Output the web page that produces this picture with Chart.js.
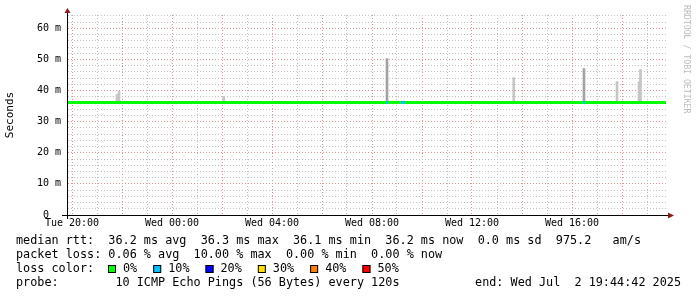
<!DOCTYPE html>
<html>
<head>
<meta charset="utf-8">
<script src="https://cdn.jsdelivr.net/npm/chart.js@4.4.0/dist/chart.umd.min.js"></script>
<style>
  html, body { margin: 0; padding: 0; background: #fff; }
</style>
</head>
<body>
<canvas id="smoke" width="697" height="297"></canvas>
<script>
// x values are hours after Tue 20:00
const gridHours = [0, 1, 2, 3, 4, 5, 6, 7, 8, 9, 10, 11, 12, 13, 14, 15, 16, 17, 18, 19, 20, 21, 22, 23];
const labelHours = [0, 4, 8, 12, 16, 20];
const timeLabels = ['Tue 20:00', 'Wed 00:00', 'Wed 04:00', 'Wed 08:00', 'Wed 12:00', 'Wed 16:00'];

// median rtt (ms) with packet loss (%) per step
const medianTimes  = [-0.2, 1, 2, 3, 4, 5, 6, 7, 8, 9, 10, 11, 12, 12.56, 12.64, 13, 13.16, 13.32, 14, 15, 16, 17, 18, 19, 20, 20.44, 20.52, 21, 22, 23, 23.76];
const medianValues = [36.2, 36.2, 36.2, 36.2, 36.2, 36.2, 36.2, 36.2, 36.2, 36.2, 36.2, 36.2, 36.2, 36.2, 36.2, 36.2, 36.2, 36.2, 36.2, 36.2, 36.2, 36.2, 36.2, 36.2, 36.2, 36.2, 36.2, 36.2, 36.2, 36.2, 36.2];
const medianLoss   = [0, 0, 0, 0, 0, 0, 0, 0, 0, 0, 0, 0, 0, 10, 0, 0, 10, 0, 0, 0, 0, 0, 0, 0, 0, 10, 0, 0, 0, 0, 0];

// smoke (spread of the pings) where it shows above the median
const smokeTimes = [1.80, 1.88, 6.07, 12.60, 17.67, 20.48, 21.80, 22.68, 22.74];
const smokeLow   = [36.0, 36.0, 36.0, 36.0, 36.0, 36.0, 36.0, 36.0, 36.0];
const smokeHigh  = [38.8, 39.8, 38.1, 50.3, 44.2, 47.1, 42.9, 42.9, 46.8];
const smokePings = [1, 1, 1, 2, 1, 2, 1, 1, 1];

// legend numbers
const rttStats  = [36.2, 36.3, 36.1, 36.2, 0.0];
const amPerSec  = 975.2;
const lossStats = [0.06, 10.00, 0.00, 0.00];
const lossSteps = [0, 10, 20, 30, 40, 50];
const lossColors = ['#00ff00', '#00c0ff', '#0000ff', '#ffe000', '#ff8000', '#ff0000'];

const MONO = '"DejaVu Sans Mono", monospace';
const MAJOR = '#de9494';
const MINOR = '#c2c2c2';

function lossColor(p) {
    let c = lossColors[0];
    lossSteps.forEach((s, i) => { if (p >= s) c = lossColors[i]; });
    return c;
}

const rrdDecor = {
    id: 'rrdDecor',
    afterDraw(chart) {
        const { ctx, chartArea: a } = chart;
        ctx.save();

        // axis lines sticking out a little, plus arrows
        ctx.strokeStyle = '#000';
        ctx.lineWidth = 1;
        ctx.beginPath();
        ctx.moveTo(62, a.bottom + 0.5);
        ctx.lineTo(a.right + 2, a.bottom + 0.5);
        ctx.moveTo(a.left + 0.5, a.bottom + 4);
        ctx.lineTo(a.left + 0.5, a.top - 2);
        ctx.stroke();

        ctx.fillStyle = '#901818';
        ctx.beginPath();
        ctx.moveTo(a.left + 0.5 - 3, 13);
        ctx.lineTo(a.left + 0.5 + 3, 13);
        ctx.lineTo(a.left + 0.5, 8);
        ctx.closePath();
        ctx.fill();
        ctx.beginPath();
        ctx.moveTo(a.right + 1, a.bottom + 0.5 - 3);
        ctx.lineTo(a.right + 1, a.bottom + 0.5 + 3);
        ctx.lineTo(a.right + 7, a.bottom + 0.5);
        ctx.closePath();
        ctx.fill();

        // watermark
        ctx.save();
        ctx.translate(686, 5);
        ctx.rotate(Math.PI / 2);
        ctx.font = '8.2px ' + MONO;
        ctx.fillStyle = '#bcbcbc';
        ctx.textAlign = 'left';
        ctx.textBaseline = 'middle';
        ctx.fillText('RRDTOOL / TOBI OETIKER', 0, 0);
        ctx.restore();

        // legend text
        ctx.font = '11.8px ' + MONO;
        ctx.fillStyle = '#000';
        ctx.textBaseline = 'middle';
        ctx.textAlign = 'left';
        const x0 = 16;
        const r = rttStats.map(v => v.toFixed(1));
        ctx.fillText(`median rtt:  ${r[0]} ms avg  ${r[1]} ms max  ${r[2]} ms min  ${r[3]} ms now  ${r[4]} ms sd  ${amPerSec.toFixed(1)}   am/s`, x0, 241);
        const l = lossStats.map(v => v.toFixed(2));
        ctx.fillText(`packet loss: ${l[0]} % avg  ${l[1]} % max  ${l[2]} % min  ${l[3]} % now`, x0, 255);
        ctx.fillText('loss color:', x0, 269);

        let bx = 108;
        lossSteps.forEach((s, i) => {
            ctx.fillStyle = lossColors[i];
            ctx.fillRect(bx, 265, 8, 8);
            ctx.strokeStyle = '#000';
            ctx.strokeRect(bx + 0.5, 265.5, 7, 7);
            ctx.fillStyle = '#000';
            const t = s + '%';
            ctx.fillText(t, bx + 15, 269);
            bx = bx + 15 + ctx.measureText(t).width + 16;
        });

        ctx.fillText('probe:        10 ICMP Echo Pings (56 Bytes) every 120s', x0, 283);
        ctx.textAlign = 'right';
        ctx.fillText('end: Wed Jul  2 19:44:42 2025', 681, 283);
        ctx.restore();
    }
};

new Chart(document.getElementById('smoke'), {
    type: 'bar',
    data: {
        datasets: [
            {
                type: 'line',
                data: medianTimes.map((t, i) => ({ x: t, y: medianValues[i] })),
                stepped: 'after',
                borderWidth: 3,
                borderColor: lossColor(0),
                pointRadius: 0,
                fill: false,
                segment: { borderColor: c => lossColor(medianLoss[c.p0DataIndex]) },
                order: 1
            },
            {
                type: 'bar',
                data: smokeTimes.map((t, i) => ({ x: t, y: [smokeLow[i], smokeHigh[i]] })),
                backgroundColor: smokePings.map(n => n > 1 ? '#a2a2a2' : '#c6c6c6'),
                barThickness: 2,
                grouped: false,
                order: 2
            }
        ]
    },
    options: {
        responsive: false,
        animation: false,
        devicePixelRatio: 1,
        layout: { padding: { left: 0, top: 15, right: 30, bottom: 62 } },
        plugins: { legend: { display: false }, tooltip: { enabled: false } },
        scales: {
            x: {
                type: 'linear',
                min: -0.2,
                max: 23.8,
                offset: false,
                afterBuildTicks: s => { s.ticks = gridHours.map(v => ({ value: v })); },
                afterFit: s => { s.height = 20; },
                ticks: {
                    autoSkip: false,
                    maxRotation: 0,
                    padding: 2,
                    color: '#000',
                    font: { family: MONO, size: 10 },
                    callback: v => {
                        const i = labelHours.indexOf(v);
                        return i >= 0 ? timeLabels[i] : '';
                    }
                },
                grid: {
                    offset: false,
                    drawTicks: false,
                    lineWidth: 1,
                    color: c => (c.tick && c.tick.value % 2 === 0) ? MAJOR : MINOR
                },
                border: { display: true, color: '#000', width: 1, dash: [1, 2] }
            },
            y: {
                type: 'linear',
                min: 0,
                max: 64.3,
                afterBuildTicks: s => {
                    const t = [];
                    for (let v = 0; v <= 64; v += 2) t.push({ value: v });
                    s.ticks = t;
                },
                afterFit: s => { s.width = 67; },
                ticks: {
                    autoSkip: false,
                    padding: 6,
                    color: '#000',
                    font: { family: MONO, size: 10 },
                    callback: v => v === 0 ? '0  ' : (v % 10 === 0 ? v + ' m' : '')
                },
                grid: {
                    drawTicks: false,
                    lineWidth: 1,
                    color: c => {
                        if (!c.tick || c.tick.value === 0) return 'rgba(0,0,0,0)';
                        return c.tick.value % 10 === 0 ? MAJOR : MINOR;
                    }
                },
                border: { display: true, color: '#000', width: 1, dash: [1, 2] },
                title: {
                    display: true,
                    text: 'Seconds',
                    color: '#000',
                    font: { family: MONO, size: 11 },
                    padding: { top: 4, bottom: 0 }
                }
            }
        }
    },
    plugins: [rrdDecor]
});
</script>
</body>
</html>
